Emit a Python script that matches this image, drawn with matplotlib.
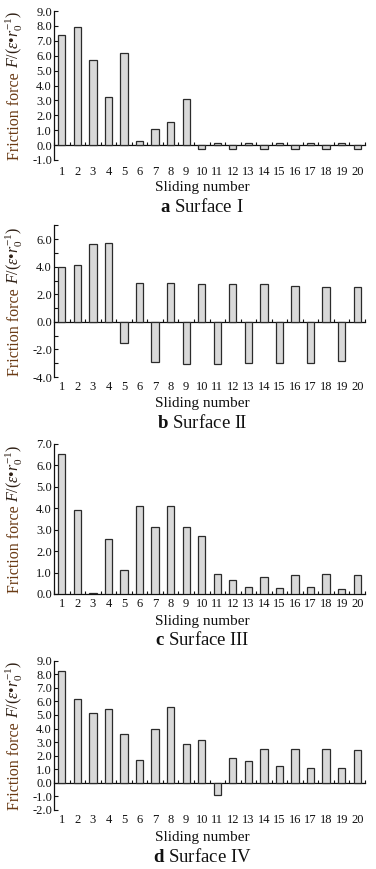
import numpy as np
import matplotlib as mpl
import matplotlib.pyplot as plt
from matplotlib.ticker import MultipleLocator

mpl.rcParams.update({
    "font.family": ["Liberation Serif", "DejaVu Serif"],
    "mathtext.fontset": "custom",
    "mathtext.rm": "Liberation Serif",
    "mathtext.it": "Liberation Serif:italic",
    "mathtext.bf": "Liberation Serif:bold",
    "axes.linewidth": 0.9,
})

# --- data ----------------------------------------------------------------
slides = np.arange(1, 21)
tick_labels = [str(i) for i in slides]

surface_1 = [7.40, 7.95, 5.70, 3.22, 6.20, 0.26, 1.10, 1.55, 3.07, -0.24,
             0.16, -0.24, 0.16, -0.27, 0.13, -0.27, 0.16, -0.27, 0.13, -0.29]
surface_2 = [4.00, 4.15, 5.65, 5.72, -1.50, 2.80, -2.88, 2.80, -3.03, 2.74,
             -3.07, 2.74, -2.98, 2.74, -2.96, 2.64, -2.97, 2.56, -2.87, 2.56]
surface_3 = [6.52, 3.92, 0.06, 2.55, 1.12, 4.10, 3.14, 4.10, 3.14, 2.72,
             0.95, 0.67, 0.34, 0.80, 0.28, 0.90, 0.33, 0.95, 0.22, 0.90]
surface_4 = [8.25, 6.15, 5.18, 5.45, 3.62, 1.70, 4.00, 5.58, 2.83, 3.15,
             -0.86, 1.80, 1.62, 2.52, 1.23, 2.52, 1.10, 2.52, 1.10, 2.42]

captions = [r"$\mathbf{a}$ Surface I", r"$\mathbf{b}$ Surface II",
            r"$\mathbf{c}$ Surface III", r"$\mathbf{d}$ Surface IV"]
ylabel_word = "Friction force"
ylabel_unit = r" $F$/($ε$•$r_0^{-1}$)"

# --- layout (pixels) -----------------------------------------------------
W, H = 376, 869
LEFT, RIGHT = 54, 365
TEXT_X = 202
panels = [
    # values, top, bottom, ylim, major, minor, label offset, xlabel y, caption y
    (surface_1, 11, 160, (-1, 9), 1, 1, 12, 188, 207),
    (surface_2, 225.5, 377, (-4, 7), 2, 1, 10, 403, 423),
    (surface_3, 444, 594, (0, 7), 1, 1, 10, 621, 640),
    (surface_4, 660.7, 810, (-2, 9), 1, 1, 10, 837, 857),
]

INK = "#111111"
LABEL = "#6a3a14"
UNIT = "#2e1f14"
BAR = "#d9d9d9"
EDGE = "#2b2b2b"

fig = plt.figure(figsize=(W / 100, H / 100), dpi=100)
renderer = fig.canvas.get_renderer()

for (vals, top, bot, ylim, major, minor, off, xl_y, cap_y), cap in zip(panels, captions):
    ax = fig.add_axes([LEFT / W, 1 - bot / H, (RIGHT - LEFT) / W, (bot - top) / H])
    ax.bar(slides, vals, width=0.47, color=BAR, edgecolor=EDGE, linewidth=0.9, zorder=3)
    ax.set_xlim(0.5, 20.5)
    ax.set_ylim(*ylim)
    ax.yaxis.set_major_locator(MultipleLocator(major))
    ax.yaxis.set_minor_locator(MultipleLocator(minor))
    ax.yaxis.set_major_formatter(mpl.ticker.FormatStrFormatter("%.1f"))
    ax.tick_params(axis="y", which="both", direction="in", length=3, width=0.8,
                   labelsize=9, colors=INK, pad=1.5)
    ax.set_xticks(slides)
    ax.set_xticklabels(tick_labels)
    ax.tick_params(axis="x", length=0, labelsize=9, colors=INK, pad=off * 0.72)
    for lab in ax.get_xticklabels():
        lab.set_va("center")
    for s in ("top", "right", "bottom"):
        ax.spines[s].set_visible(False)
    ax.spines["left"].set_color(INK)

    # zero line with category-boundary ticks
    zf = (0 - ylim[0]) / (ylim[1] - ylim[0])
    sec = ax.secondary_xaxis(zf)
    sec.set_xticks(np.arange(0.5, 21, 1))
    sec.tick_params(direction="in", length=2.5, width=0.8, labelbottom=False,
                    colors=INK)
    sec.spines["bottom"].set_color(INK)
    sec.spines["bottom"].set_linewidth(0.9)

    # two-colour y label: brown words, dark unit
    cy = H - (top + bot) / 2
    kw = dict(rotation=90, rotation_mode="anchor", ha="left", va="baseline",
              fontsize=11.5)
    t1 = fig.text(19 / W, 0, ylabel_word, color=LABEL, **kw)
    t2 = fig.text(19 / W, 0, ylabel_unit, color=UNIT, **kw)
    h1 = t1.get_window_extent(renderer).height
    h2 = t2.get_window_extent(renderer).height
    y0 = cy - (h1 + h2) / 2
    t1.set_y(y0 / H)
    t2.set_y((y0 + h1) / H)

    fig.text(TEXT_X / W, 1 - xl_y / H, "Sliding number",
             ha="center", va="center", fontsize=11, color=INK)
    fig.text(TEXT_X / W, 1 - cap_y / H, cap,
             ha="center", va="center", fontsize=13.5, color=INK)

fig.savefig("out.png", dpi=100)
